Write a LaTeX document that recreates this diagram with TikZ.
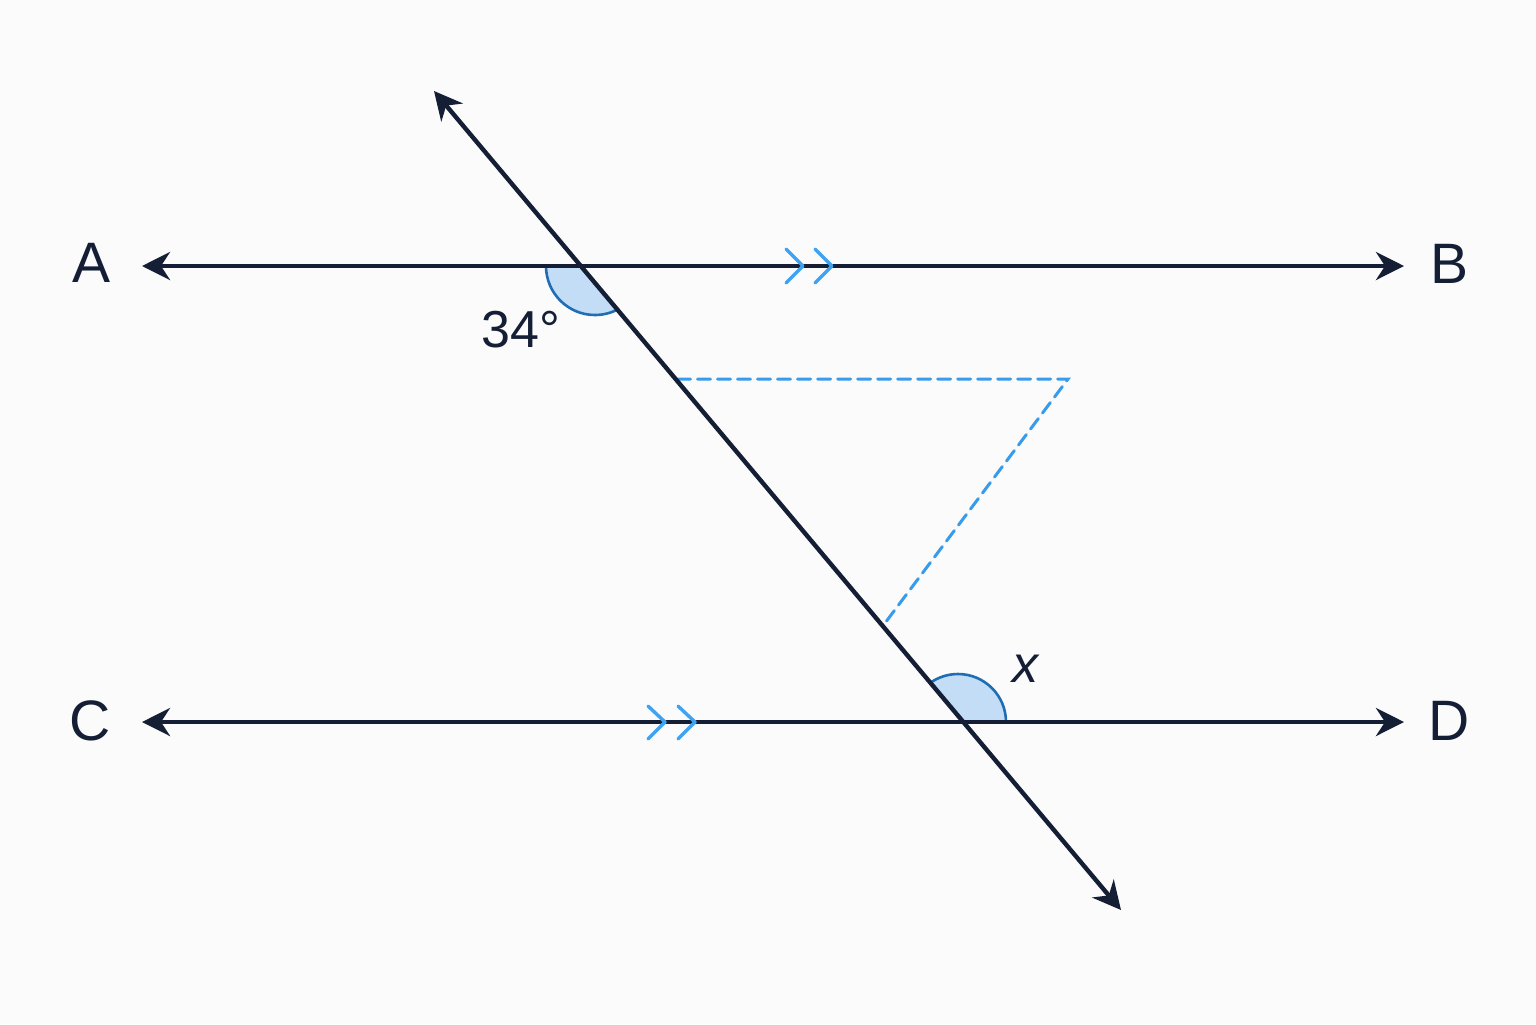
\documentclass[tikz,border=0pt]{standalone}
\usepackage{fontspec}
\setmainfont{Liberation Sans}
\usetikzlibrary{arrows.meta}
\definecolor{ink}{HTML}{141E35}
\definecolor{arcline}{HTML}{1F6DB3}
\definecolor{arcfill}{HTML}{C2DDF5}
\definecolor{dashblue}{HTML}{3A9BEA}
\definecolor{chev}{HTML}{3FA2F2}
\definecolor{bg}{HTML}{FBFBFC}
\tikzset{
  mainline/.style={draw=ink, line width=2.2pt, {Stealth[length=14pt,width=14pt,inset=4.5pt]}-{Stealth[length=14pt,width=14pt,inset=4.5pt]}},
  ptlabel/.style={text=ink, inner sep=0pt, font=\fontsize{28.5}{30}\selectfont},
  anglabel/.style={text=ink, inner sep=0pt, font=\fontsize{26}{28}\selectfont},
  chevron/.style={draw=chev, line width=1.7pt, line cap=round, line join=round},
  anglefill/.style={fill=arcfill, draw=none},
  anglearc/.style={draw=arcline, line width=1.3pt},
  helper/.style={draw=dashblue, line width=1.5pt, dash pattern=on 6.5pt off 3.5pt, line cap=round}
}
\begin{document}
\begin{tikzpicture}[x=0.5pt, y=-0.5pt]
\fill[bg] (0,0) rectangle (1536,1024);
\useasboundingbox (0,0) rectangle (1536,1024);

% key points
\coordinate (aL) at (142,266);
\coordinate (aR) at (1404,266);
\coordinate (cL) at (142,722);
\coordinate (cR) at (1404,722);
\coordinate (P) at (583,266);
\coordinate (Q) at (965,722);
\coordinate (tTop) at (434,91);
\coordinate (tBot) at (1121,910);
\coordinate (dA) at (677.5,379);
\coordinate (dB) at (1068,379);
\coordinate (dC) at (883.5,625);

% angle sectors
\path[anglefill] (546,266) arc[start angle=180, end angle=299.5, radius=24.5pt] -- (P) -- cycle;
\draw[anglearc] (546,266) arc[start angle=180, end angle=299.5, radius=24.5pt];
\path[anglefill] (1006,722) arc[start angle=0, end angle=124, radius=24pt] -- (Q) -- cycle;
\draw[anglearc] (1006,722) arc[start angle=0, end angle=124, radius=24pt];

% helper dashed lines
\draw[helper] (dA) -- (dB) -- (dC);

% main lines
\draw[mainline] (aL) -- (aR);
\draw[mainline] (cL) -- (cR);
\draw[mainline] (tTop) -- (tBot);

% parallel marks
\draw[chevron] (786,249) -- (803,266) -- (786,283);
\draw[chevron] (815,249) -- (832,266) -- (815,283);
\draw[chevron] (648,706) -- (665,722) -- (648,739);
\draw[chevron] (678,706) -- (695,722) -- (678,739);

% labels
\node[ptlabel] (A) at (92,263) {A};
\node[ptlabel] (B) at (1449,264) {B};
\node[ptlabel] (C) at (90,721) {C};
\node[ptlabel] (D) at (1449,721) {D};
\node[anglabel] (ang34) at (521,330) {34°};
\node[anglabel] (angx) at (1025,669) {\itshape x};
\end{tikzpicture}
\end{document}
